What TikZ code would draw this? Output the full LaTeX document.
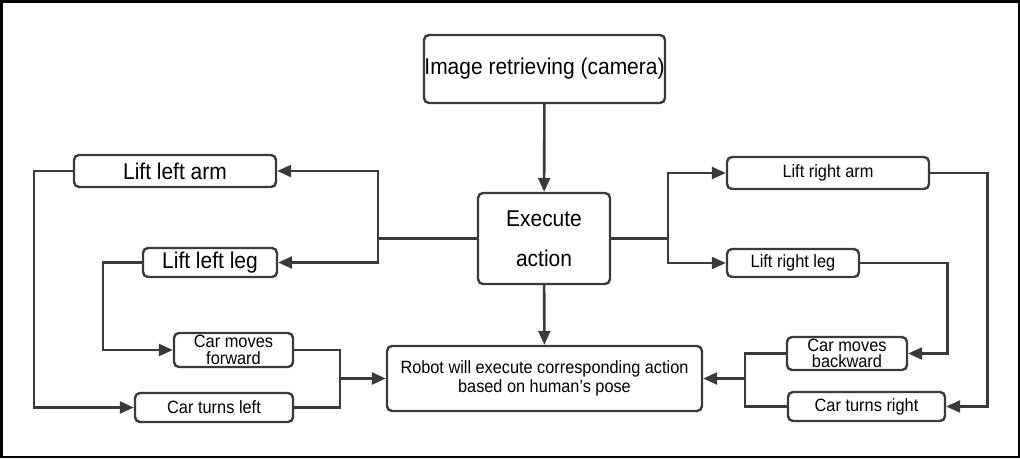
\documentclass[tikz,border=0pt]{standalone}
\usepackage{fontspec}
\setmainfont[FakeStretch=0.92]{Liberation Sans}
\usetikzlibrary{arrows.meta}
\definecolor{lineg}{HTML}{3A3A3A}
\tikzset{
    ->, % every connector is directed
    >={Triangle[length=14pt,width=12pt]}, % filled triangle heads
    flowbox/.style={draw=lineg, line width=2.4pt, rounded corners=5pt, inner sep=0pt, align=center}, % sets the look of every box
    bigtext/.style={font=\fontsize{22.8}{24}\selectfont}, % large labels
    smalltext/.style={font=\fontsize{17.8}{16.5}\selectfont}, % small labels
    link/.style={draw=lineg, line width=2.6pt}, % connectors
}

\begin{document}
\begin{tikzpicture}[x=1pt, y=-1pt]
    \useasboundingbox (0,0) rectangle (1020,458);
    \draw[-, line width=2.5pt, black] (1.25,1.25) rectangle (1018.75,456.75);
    % boxes
    \node[flowbox, bigtext, minimum width=241pt, minimum height=68pt] (cam) at (544.5,69) {Image retrieving (camera)};
    \node[flowbox, font=\fontsize{22.8}{40}\selectfont, minimum width=132pt, minimum height=91pt] (exec) at (544,238.5) {Execute\\action};
    \node[flowbox, font=\fontsize{17.7}{18.5}\selectfont, minimum width=315pt, minimum height=65pt] (robot) at (544.5,378.5) {Robot will execute corresponding action\\based on human’s pose};
    \node[flowbox, bigtext, minimum width=202pt, minimum height=32pt] (larm) at (175,171) {Lift left arm};
    \node[flowbox, bigtext, minimum width=134pt, minimum height=29pt] (lleg) at (210,262.5) {Lift left leg};
    \node[flowbox, smalltext, minimum width=119pt, minimum height=34pt] (cfwd) at (233.5,350) {Car moves\\forward};
    \node[flowbox, smalltext, minimum width=158pt, minimum height=29pt] (cleft) at (214,407.5) {Car turns left};
    \node[flowbox, smalltext, minimum width=202pt, minimum height=32pt] (rarm) at (828,173) {Lift right arm};
    \node[flowbox, smalltext, minimum width=132pt, minimum height=28pt] (rleg) at (793,263) {Lift right leg};
    \node[flowbox, smalltext, minimum width=120pt, minimum height=33pt] (cback) at (847,353.5) {Car moves\\backward};
    \node[flowbox, smalltext, minimum width=157pt, minimum height=29pt] (cright) at (866.5,406.5) {Car turns right};
    % split and merge points
    \coordinate (lsplit) at (378,238.5);
    \coordinate (rsplit) at (668,238.5);
    \coordinate (lmerge) at (340,378.5);
    \coordinate (rmerge) at (745,378.5);
    % connectors
    \draw[link] (cam) -- (exec);
    \draw[link] (exec) -- (robot);
    \draw[link, -] (exec.west) -- (lsplit);
    \draw[link] (lsplit) |- (larm.east);
    \draw[link] (lsplit) |- (lleg.east);
    \draw[link, -] (exec.east) -- (rsplit);
    \draw[link] (rsplit) |- (rarm.west);
    \draw[link] (rsplit) |- (rleg.west);
    \draw[link] (larm.west) -- ++(-39,0) |- (cleft.west);
    \draw[link] (lleg.west) -- ++(-39,0) |- (cfwd.west);
    \draw[link] (rarm.east) -- ++(57,0) |- (cright.east);
    \draw[link] (rleg.east) -- ++(87,0) |- (cback.east);
    \draw[link, -] (cfwd.east) -| (lmerge) |- (cleft.east);
    \draw[link] (lmerge) -- (robot.west);
    \draw[link, -] (cback.west) -| (rmerge) |- (cright.west);
    \draw[link] (rmerge) -- (robot.east);
\end{tikzpicture}
\end{document}
